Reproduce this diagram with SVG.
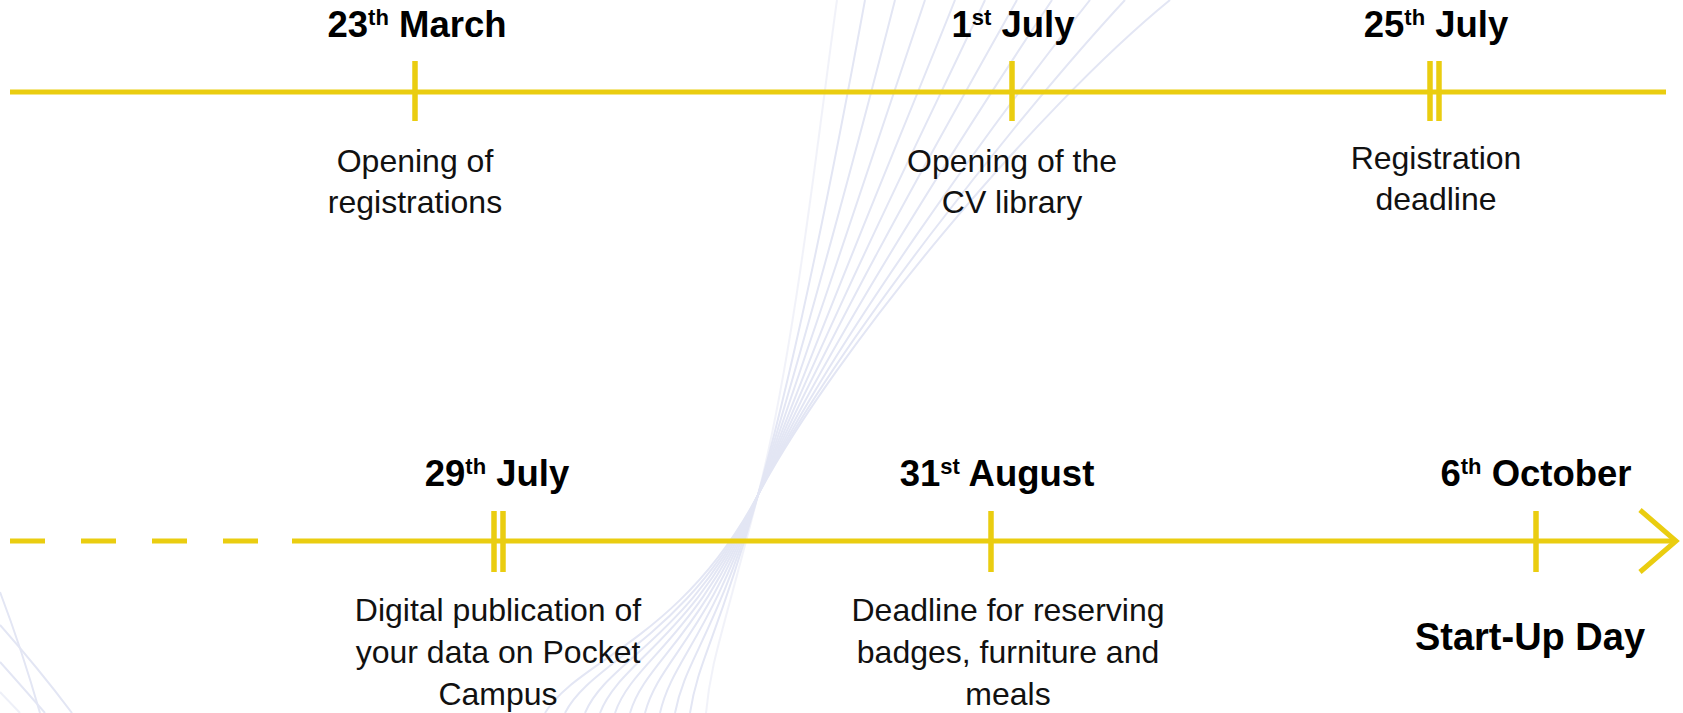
<svg xmlns="http://www.w3.org/2000/svg" width="1683" height="713" viewBox="0 0 1683 713">
<style>
.bg{fill:none;stroke:#E3E6F4;stroke-width:2}
.tl{fill:none;stroke:#EACD10;stroke-width:5}
.tk{fill:none;stroke:#EACD10;stroke-width:5.5}
.date{font-family:"Liberation Sans",Arial,Helvetica,sans-serif;font-weight:bold;font-size:36.5px;fill:#000;text-anchor:middle}
.sup{font-size:22px}
.desc{font-family:"Liberation Sans",Arial,Helvetica,sans-serif;font-size:32px;fill:#111;text-anchor:middle}
.big{font-family:"Liberation Sans",Arial,Helvetica,sans-serif;font-weight:bold;font-size:38px;fill:#000;text-anchor:middle}
</style>
<rect width="1683" height="713" fill="#fff"/>
<g id="background">
<path class="bg" opacity="0.5" d="M837,0 C820,120 795,350 758,495 S711,660 706,713"/>
<path class="bg" d="M865,0 C843,120 799,350 758,495 S698,660 690,713"/>
<path class="bg" d="M895,0 C865,118 803,350 758,495 S685,660 675,713"/>
<path class="bg" d="M925,0 C887,117 807,350 758,495 S672,660 660,713"/>
<path class="bg" d="M955,0 C909,116 811,350 758,495 S659,660 645,713"/>
<path class="bg" d="M985,0 C931,115 815,350 758,495 S646,660 630,713"/>
<path class="bg" d="M1017,0 C953,114 819,350 758,495 S633,660 615,713"/>
<path class="bg" d="M1052,0 C977,113 823,350 758,495 S620,660 600,713"/>
<path class="bg" d="M1090,0 C1001,112 827,350 758,495 S607,660 585,713"/>
<path class="bg" d="M1125,0 C1022,111 831,350 758,495 S592,660 565,713"/>
<path class="bg" d="M1170,0 C1035,110 835,350 758,495 S577,660 545,713"/>
<path class="bg" d="M0,592 Q22,650 40,713"/>
<path class="bg" d="M0,625 Q38,668 72,713"/>
<path class="bg" d="M0,662 Q25,690 45,713"/>
<path class="bg" opacity="0.6" d="M0,692 L20,713"/>
</g>
<g id="connectors">
<line class="tl" x1="10" y1="92" x2="1666" y2="92"/>
<line class="tl" x1="10" y1="541" x2="294" y2="541" stroke-dasharray="35 36"/>
<line class="tl" x1="292" y1="541" x2="1675" y2="541"/>
<polyline class="tl" points="1640,510 1676,541 1640,572"/>
</g>
<g id="ev-23-march">
<line class="tk" x1="415" y1="61" x2="415" y2="121"/>
<text class="date" x="417" y="37">23<tspan class="sup" dy="-12">th</tspan><tspan dy="12"> March</tspan></text>
<text class="desc" x="415" y="172">Opening of</text>
<text class="desc" x="415" y="213">registrations</text>
</g>
<g id="ev-1-july">
<line class="tk" x1="1012" y1="61" x2="1012" y2="121"/>
<text class="date" x="1013" y="37">1<tspan class="sup" dy="-12">st</tspan><tspan dy="12"> July</tspan></text>
<text class="desc" x="1012" y="172">Opening of the</text>
<text class="desc" x="1012" y="213">CV library</text>
</g>
<g id="ev-25-july">
<line class="tk" x1="1430" y1="61" x2="1430" y2="121"/>
<line class="tk" x1="1439" y1="61" x2="1439" y2="121"/>
<text class="date" x="1436" y="37">25<tspan class="sup" dy="-12">th</tspan><tspan dy="12"> July</tspan></text>
<text class="desc" x="1436" y="169">Registration</text>
<text class="desc" x="1436" y="210">deadline</text>
</g>
<g id="ev-29-july">
<line class="tk" x1="494" y1="511" x2="494" y2="572"/>
<line class="tk" x1="503" y1="511" x2="503" y2="572"/>
<text class="date" x="497" y="486">29<tspan class="sup" dy="-12">th</tspan><tspan dy="12"> July</tspan></text>
<text class="desc" x="498" y="621">Digital publication of</text>
<text class="desc" x="498" y="663">your data on Pocket</text>
<text class="desc" x="498" y="705">Campus</text>
</g>
<g id="ev-31-august">
<line class="tk" x1="991" y1="511" x2="991" y2="572"/>
<text class="date" x="997" y="486">31<tspan class="sup" dy="-12">st</tspan><tspan dy="12"> August</tspan></text>
<text class="desc" x="1008" y="621">Deadline for reserving</text>
<text class="desc" x="1008" y="663">badges, furniture and</text>
<text class="desc" x="1008" y="705">meals</text>
</g>
<g id="ev-6-october">
<line class="tk" x1="1536" y1="511" x2="1536" y2="572"/>
<text class="date" x="1536" y="486">6<tspan class="sup" dy="-12">th</tspan><tspan dy="12"> October</tspan></text>
<text class="big" x="1530" y="650">Start-Up Day</text>
</g>
</svg>
